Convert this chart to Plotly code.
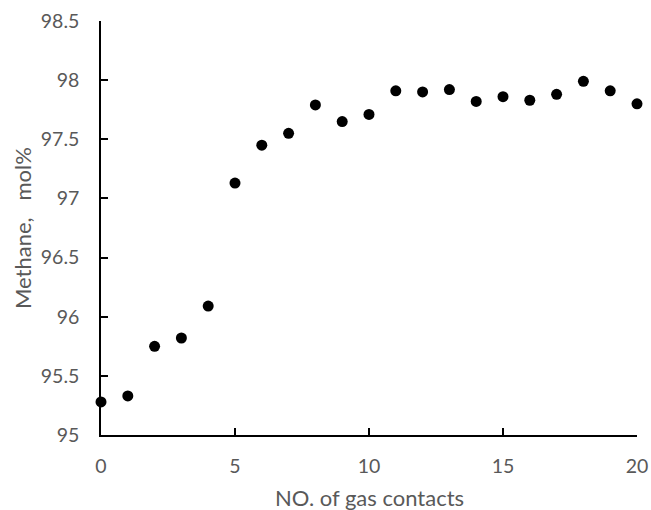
import plotly.graph_objects as go

contacts = list(range(21))
methane = [95.28, 95.33, 95.75, 95.82, 96.09, 97.13, 97.45, 97.55, 97.79, 97.65,
           97.71, 97.91, 97.90, 97.92, 97.82, 97.86, 97.83, 97.88, 97.99, 97.91, 97.80]

y_tickvals = [95, 95.5, 96, 96.5, 97, 97.5, 98, 98.5]
y_ticktext = ["95", "95.5", "96", "96.5", "97", "97.5", "98", "98.5"]
x_tickvals = [0, 5, 10, 15, 20]
x_ticktext = ["0", "5", "10", "15", "20"]

x_title = "NO. of gas contacts"
y_title = "Methane," + "&nbsp;" * 3 + "mol%"

FONT = "Lato"
GRAY = "#595959"

fig = go.Figure()
fig.add_trace(go.Scatter(
    x=contacts, y=methane, mode="markers",
    marker=dict(color="black", size=11, line=dict(width=0)),
    cliponaxis=False, showlegend=False,
))

axis_common = dict(
    showline=True, linecolor="black", linewidth=1.5,
    ticks="inside", ticklen=7, tickwidth=1.5, tickcolor="black",
    showgrid=False, zeroline=False, automargin=False,
    tickfont=dict(family=FONT, size=19.5, color=GRAY),
)

fig.update_layout(
    width=651, height=510,
    margin=dict(l=101, r=14, t=21, b=75, autoexpand=False),
    paper_bgcolor="white", plot_bgcolor="white",
    font=dict(family=FONT, color=GRAY),
    xaxis=dict(range=[0, 20], tickvals=x_tickvals, ticktext=x_ticktext,
               ticklabelstandoff=13, **axis_common),
    yaxis=dict(range=[95, 98.5], tickvals=y_tickvals, ticktext=y_ticktext,
               ticklabelstandoff=16, **axis_common),
    annotations=[
        dict(text=x_title, xref="paper", yref="paper", x=0.5, y=0,
             xanchor="center", yanchor="middle", yshift=-62, showarrow=False,
             font=dict(family=FONT, size=22, color=GRAY)),
        dict(text=y_title, xref="paper", yref="paper", x=0, y=0.5,
             xanchor="center", yanchor="middle", xshift=-79, textangle=-90,
             showarrow=False, font=dict(family=FONT, size=22, color=GRAY)),
    ],
)

fig.write_html("out.html")
